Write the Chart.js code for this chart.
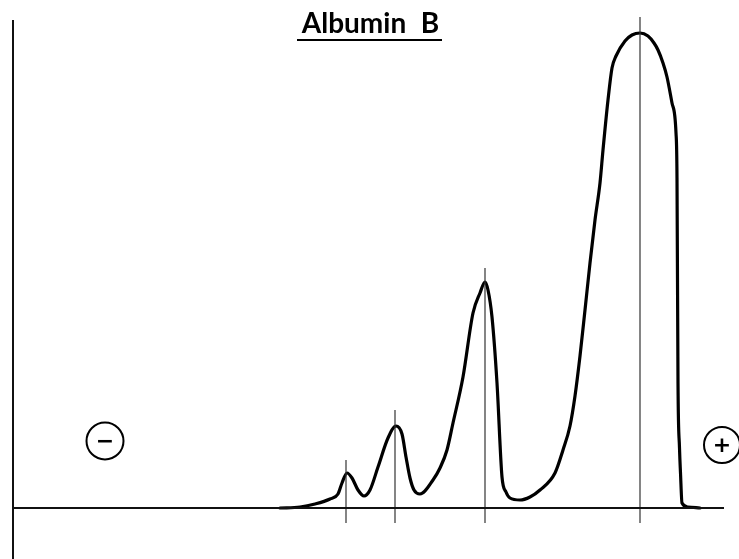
<!DOCTYPE html>
<html>
<head>
<meta charset="utf-8">
<title>Albumin B</title>
<script src="https://cdn.jsdelivr.net/npm/chart.js@4/dist/chart.umd.min.js"></script>
<style>
  html, body { margin: 0; padding: 0; background: #fff; }
  #wrap { width: 739px; height: 559px; }
</style>
</head>
<body>
<div id="wrap"><canvas id="c" width="739" height="559"></canvas></div>
<script>
// Densitometer trace of the electrophoresis strip (migration position, optical density)
const titleText = 'Albumin B';
const cathodeLabel = '\u2212';
const anodeLabel = '+';

const tracePosition = [280, 300, 315, 330, 338, 342, 347, 352, 358, 364, 370, 378, 388, 396, 402, 406, 410, 414, 420,
  433, 440, 447, 453, 463, 473, 480, 485, 488, 492, 497, 502, 506, 510, 520, 530, 540, 555, 563, 570, 575,
  580, 585, 590, 595, 600, 603, 608, 612, 616, 625, 632, 640, 648, 654, 658, 663, 667, 672, 676, 677, 678, 679.5, 680.5, 682, 688, 700];
const traceDensity = [0, 1, 4, 9, 14, 25, 35, 30, 18, 12, 18, 41, 70, 82, 74, 51, 30, 18, 14,
  28, 40, 58, 85, 131, 195, 215, 226, 218, 191, 125, 31, 16, 10, 8, 11, 18, 35, 58, 82, 112,
  152, 198, 245, 288, 325, 358, 408, 440, 452, 467, 473, 475, 472, 465, 458, 445, 431, 405, 375, 330, 125, 60, 35, 5, 1, 0];

// Fraction boundaries marked on the strip
const markerPosition = [346, 395, 485, 640];
const markerTop = [48, 98, 240, 491];
const markerBottom = -15;

// Axis extents
const baselineStart = 12, baselineEnd = 724;
const axisPosition = 13, axisTop = 488;
const yMin = -51, yMax = 508;

const traceData = tracePosition.map((x, i) => ({ x, y: traceDensity[i] }));

const datasets = [];
// baseline
datasets.push({ data: [{ x: baselineStart, y: 0 }, { x: baselineEnd, y: 0 }], borderColor: '#111', borderWidth: 2, tension: 0 });
// vertical axis
datasets.push({ data: [{ x: axisPosition, y: yMin }, { x: axisPosition, y: axisTop }], borderColor: '#111', borderWidth: 2, tension: 0 });
// fraction markers
markerPosition.forEach((x, i) => {
  datasets.push({ data: [{ x, y: markerBottom }, { x, y: markerTop[i] }], borderColor: '#333', borderWidth: 1.2, tension: 0 });
});
// the density trace
datasets.push({ data: traceData, borderColor: '#000', borderWidth: 3.2, cubicInterpolationMode: 'monotone', borderJoinStyle: 'round', borderCapStyle: 'round' });

const annotations = {
  id: 'annotations',
  afterDraw(chart) {
    const { ctx } = chart;
    ctx.save();
    // title with underline
    ctx.fillStyle = '#000';
    ctx.font = 'bold 28px Lato, "DejaVu Sans", sans-serif';
    ctx.textAlign = 'center';
    ctx.textBaseline = 'alphabetic';
    const words = titleText.split(' ');
    ctx.fillText(words[0], 354, 33);
    ctx.fillText(words[1], 430, 33);
    ctx.strokeStyle = '#000';
    ctx.lineWidth = 2.2;
    ctx.beginPath();
    ctx.moveTo(297, 40);
    ctx.lineTo(442, 40);
    ctx.stroke();

    // electrode signs
    ctx.lineWidth = 2;
    const ovals = [
      { px: 105, py: 441, r: 18.5, label: cathodeLabel },
      { px: 722, py: 445, r: 18, label: anodeLabel }
    ];
    ctx.font = 'bold 22px "DejaVu Sans", sans-serif';
    ctx.textBaseline = 'middle';
    ovals.forEach(o => {
      ctx.beginPath();
      ctx.ellipse(o.px, o.py, o.r, o.r, 0, 0, Math.PI * 2);
      ctx.stroke();
      ctx.fillText(o.label, o.px, o.py + 1);
    });
    ctx.restore();
  }
};

new Chart(document.getElementById('c'), {
  type: 'line',
  data: { datasets },
  options: {
    responsive: false,
    animation: false,
    events: [],
    layout: { padding: 0 },
    elements: { point: { radius: 0 } },
    plugins: { legend: { display: false }, tooltip: { enabled: false }, title: { display: false } },
    scales: {
      x: { type: 'linear', min: 0, max: 739, display: false },
      y: { type: 'linear', min: yMin, max: yMax, display: false }
    }
  },
  plugins: [annotations]
});
</script>
</body>
</html>
